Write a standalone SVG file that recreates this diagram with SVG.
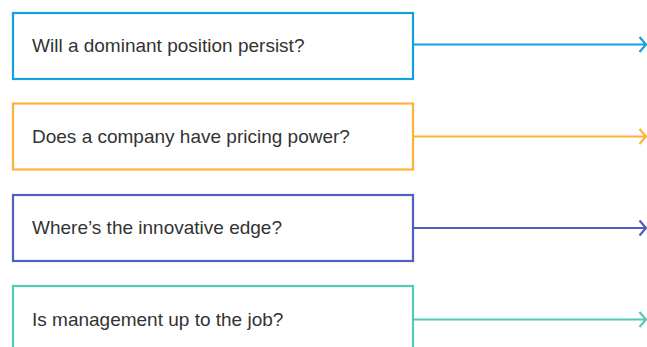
<svg xmlns="http://www.w3.org/2000/svg" width="647" height="347" viewBox="0 0 647 347">
<style>
.box{fill:#fff;stroke-width:2.2}
.lbl{font-family:"Liberation Sans",Arial,sans-serif;font-size:19px;fill:#333}
.ln{fill:none;stroke-width:2.2;stroke-linecap:butt}
.blue{stroke:#12a1dc}.orange{stroke:#fdb237}.indigo{stroke:#4d5fc0}.teal{stroke:#55c8b6}
</style>
<rect width="647" height="347" fill="#fff"/>
<g id="connectors">
<path class="ln blue" d="M413 44.5H645.5M639.5 37L646 44.5L639.5 52"/>
<path class="ln orange" d="M413 136.5H645.5M639.5 129L646 136.5L639.5 144"/>
<path class="ln indigo" d="M413 228H645.5M639.5 220.5L646 228L639.5 235.5"/>
<path class="ln teal" d="M413 319.5H645.5M639.5 312L646 319.5L639.5 327"/>
</g>
<g id="node1"><rect class="box blue" x="13" y="13" width="400" height="66"/><text class="lbl" x="32" y="52">Will a dominant position persist?</text></g>
<g id="node2"><rect class="box orange" x="13" y="103.5" width="400" height="66"/><text class="lbl" x="32" y="143">Does a company have pricing power?</text></g>
<g id="node3"><rect class="box indigo" x="13" y="195" width="400" height="66"/><text class="lbl" x="32" y="234">Where’s the innovative edge?</text></g>
<g id="node4"><rect class="box teal" x="13" y="286" width="400" height="66"/><text class="lbl" x="32" y="326">Is management up to the job?</text></g>
</svg>
